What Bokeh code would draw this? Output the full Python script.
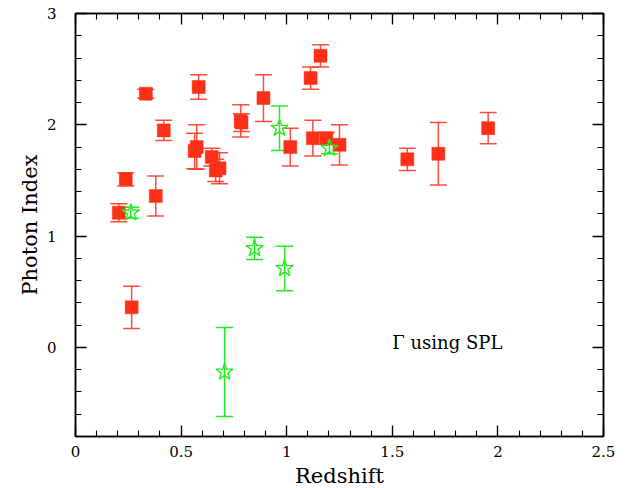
import numpy as np
from bokeh.plotting import figure
from bokeh.models import (ColumnDataSource, Whisker, TeeHead, LinearAxis, FixedTicker,
                          Range1d, Label)
from bokeh.embed import file_html
from bokeh.resources import INLINE

# ---- data ----
red_z = [0.205, 0.238, 0.333, 0.380, 0.418, 0.564, 0.574, 0.583, 0.645, 0.664, 0.682,
         0.782, 0.786, 0.890, 1.017, 1.113, 1.160, 1.124, 1.188, 1.250, 1.571, 1.718,
         1.954, 0.266]
red_g = [1.21, 1.51, 2.28, 1.36, 1.95, 1.765, 1.80, 2.34, 1.71, 1.59, 1.61,
         2.035, 2.02, 2.24, 1.80, 2.42, 2.62, 1.88, 1.88, 1.82, 1.69, 1.74,
         1.97, 0.36]
red_err = [0.08, 0.06, 0.04, 0.18, 0.09, 0.16, 0.20, 0.11, 0.08, 0.10, 0.14,
           0.145, 0.08, 0.21, 0.17, 0.10, 0.10, 0.16, 0.05, 0.18, 0.10, 0.28,
           0.14, 0.19]

green_z = [0.262, 0.966, 1.202, 0.848, 0.990, 0.706]
green_g = [1.21, 1.97, 1.79, 0.89, 0.71, -0.22]
green_err = [0.05, 0.20, 0.05, 0.10, 0.20, 0.40]

x_major = [0, 0.5, 1, 1.5, 2, 2.5]
x_labels = ["0", "0.5", "1", "1.5", "2", "2.5"]
y_major = [0, 1, 2, 3]

RED = "#ff3018"
RED_BAR = "#ff3a28"
GREEN = "#22ee22"
FONT = "DejaVu Serif"

p = figure(frame_width=528, frame_height=423, output_backend="svg", toolbar_location=None,
           x_range=Range1d(0, 2.5), y_range=Range1d(-0.8, 3.0),
           x_axis_location=None, y_axis_location=None,
           min_border_left=75, min_border_right=25, min_border_top=13,
           min_border_bottom=50)
p.grid.visible = False
p.outline_line_color = "black"
p.outline_line_width = 1.5
p.background_fill_color = "white"
p.border_fill_color = "white"

xt = FixedTicker(ticks=x_major, minor_ticks=list(np.round(np.arange(0, 2.5001, 0.1), 3)))
yt = FixedTicker(ticks=y_major, minor_ticks=list(np.round(np.arange(-0.8, 3.0001, 0.2), 3)))


def style(ax):
    ax.major_tick_in = 11
    ax.major_tick_out = 0
    ax.minor_tick_in = 6
    ax.minor_tick_out = 0
    ax.major_tick_line_color = "black"
    ax.minor_tick_line_color = "black"
    ax.major_tick_line_width = 1.3
    ax.minor_tick_line_width = 1.1
    ax.axis_line_color = "black"
    ax.axis_line_width = 1.5
    ax.major_label_text_font = FONT
    ax.major_label_text_font_size = "15px"
    ax.major_label_text_color = "black"
    ax.axis_label_text_font = FONT
    ax.axis_label_text_font_style = "normal"
    ax.axis_label_text_font_size = "21px"
    ax.axis_label_text_color = "black"


xb = LinearAxis(ticker=xt, axis_label="Redshift")
style(xb)
xb.major_label_standoff = 9
xb.axis_label_standoff = 4
xb.major_label_overrides = dict(zip(x_major, x_labels))
p.add_layout(xb, "below")

xa = LinearAxis(ticker=xt)
style(xa)
xa.major_label_standoff = 0
xa.major_label_overrides = {t: "" for t in x_major}
p.add_layout(xa, "above")

yl = LinearAxis(ticker=yt, axis_label="Photon Index")
style(yl)
yl.major_label_standoff = 19
yl.axis_label_standoff = 2
yl.major_label_orientation = "horizontal"
p.add_layout(yl, "left")

yr = LinearAxis(ticker=yt)
style(yr)
yr.major_label_standoff = 0
yr.major_label_overrides = {t: "" for t in y_major}
p.add_layout(yr, "right")

# ---- red series ----
rsrc = ColumnDataSource(dict(
    x=red_z, y=red_g,
    lo=[g - e for g, e in zip(red_g, red_err)],
    hi=[g + e for g, e in zip(red_g, red_err)]))
rw = Whisker(base="x", lower="lo", upper="hi", source=rsrc,
             line_color=RED_BAR, line_width=1.5, line_alpha=0.9,
             upper_head=TeeHead(size=17, line_color=RED_BAR, line_width=1.5, line_alpha=0.9),
             lower_head=TeeHead(size=17, line_color=RED_BAR, line_width=1.5, line_alpha=0.9),
             level="underlay")
p.add_layout(rw)
p.scatter("x", "y", source=rsrc, marker="square", size=13,
          fill_color=RED, line_color=RED, line_width=0.5)

# ---- green series ----
gsrc = ColumnDataSource(dict(
    x=green_z, y=green_g,
    lo=[g - e for g, e in zip(green_g, green_err)],
    hi=[g + e for g, e in zip(green_g, green_err)]))
gw = Whisker(base="x", lower="lo", upper="hi", source=gsrc,
             line_color=GREEN, line_width=1.5,
             upper_head=TeeHead(size=17, line_color=GREEN, line_width=1.5),
             lower_head=TeeHead(size=17, line_color=GREEN, line_width=1.5))
p.add_layout(gw)
p.scatter("x", "y", source=gsrc, marker="star", size=18,
          fill_color="white", fill_alpha=0.0, line_color=GREEN, line_width=1.4)

p.add_layout(Label(x=1.5, y=0.04, text="Γ using SPL", text_font=FONT,
                   text_font_size="18px", text_color="black",
                   text_baseline="middle", text_align="left"))

open("out.html", "w").write(file_html(p, INLINE))
